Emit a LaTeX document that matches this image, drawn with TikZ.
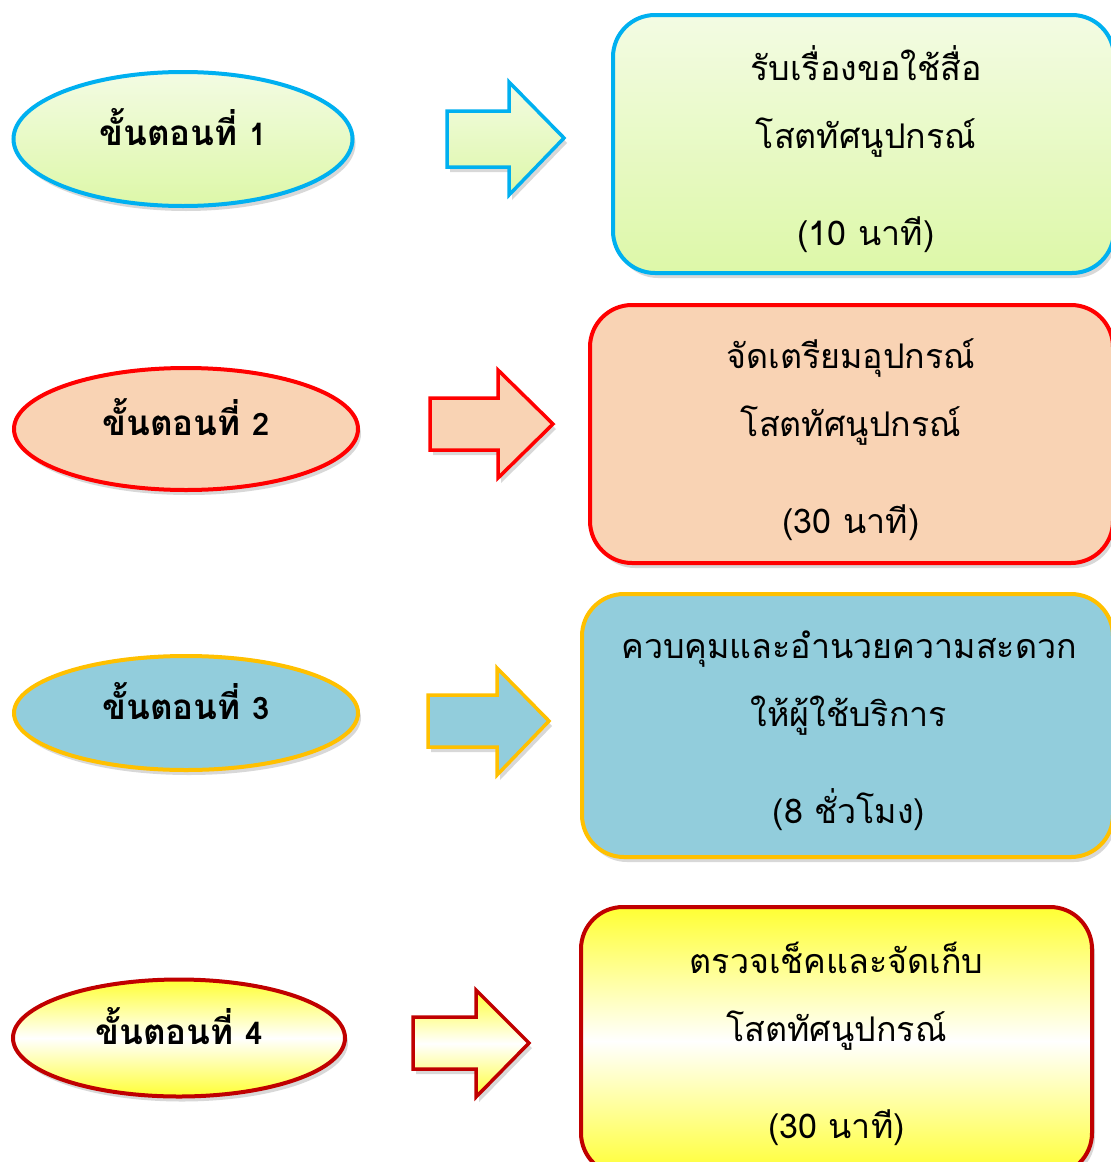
\documentclass[tikz,border=0pt]{standalone}
\usepackage{fontspec}
\newfontfamily\thaifont[Script=Thai]{Loma}
\usepackage{tikz}
\usetikzlibrary{shapes.geometric}
\usetikzlibrary{shadows}
\usepackage{xcolor}
\definecolor{cyanline}{HTML}{00B0F0}
\definecolor{greenlt}{HTML}{F3FBE3}
\definecolor{greendk}{HTML}{DDF8A8}
\definecolor{peach}{HTML}{F9D3B4}
\definecolor{skyblue}{HTML}{92CDDC}
\definecolor{gold}{HTML}{FFC000}
\definecolor{darkred}{HTML}{C00000}
\definecolor{yel}{HTML}{FFFF33}
\newcommand{\stepno}[1]{{\fontsize{31}{34}\selectfont #1}}

\begin{document}
\begin{tikzpicture}[x=1pt,y=-1pt,
  shade1/.style={top color=greenlt,bottom color=greendk,draw=cyanline},
  shade2/.style={fill=peach,draw=red},
  shade3/.style={fill=skyblue,draw=gold},
  shade4/.style={top color=yel,bottom color=yel,middle color=white,draw=darkred},
  soft/.style={line width=4pt,drop shadow={opacity=0.3,shadow xshift=3pt,shadow yshift=-5pt}},
  stage/.style={ellipse,soft,inner sep=0pt,font=\thaifont\bfseries\fontsize{35}{40}\selectfont},
  task/.style={rounded corners=42pt,soft,inner sep=0pt},
  tasktext/.style={align=center,inner sep=0pt,font=\thaifont\fontsize{34}{68}\selectfont}]
  \clip (0,0) rectangle (1111,1162);
  \useasboundingbox (0,0) rectangle (1111,1162);
  \fill[white] (0,0) rectangle (1111,1162);

  \node[stage,shade1,minimum width=339pt,minimum height=134pt] (st1) at (183,139) {\raisebox{-6pt}[0pt][0pt]{ขั้นตอนที่ \stepno{1}}};
  \node[stage,shade2,minimum width=344pt,minimum height=122pt] (st2) at (186,429) {\raisebox{-6pt}[0pt][0pt]{ขั้นตอนที่ \stepno{2}}};
  \node[stage,shade3,minimum width=344pt,minimum height=114pt] (st3) at (186,713) {\raisebox{-6pt}[0pt][0pt]{ขั้นตอนที่ \stepno{3}}};
  \node[stage,shade4,minimum width=332pt,minimum height=117pt] (st4) at (179,1038) {\raisebox{-6pt}[0pt][0pt]{ขั้นตอนที่ \stepno{4}}};

  \draw[shade1,soft,line width=3.5pt] (447,111) -- ++(62,0) -- ++(0,-29) -- ++(55,56) -- ++(-55,57) -- ++(0,-28) -- ++(-62,0) -- cycle;
  \draw[shade2,soft,line width=3.5pt] (430,398) -- ++(68,0) -- ++(0,-28) -- ++(55,54) -- ++(-55,54) -- ++(0,-28) -- ++(-68,0) -- cycle;
  \draw[shade3,soft,line width=3.5pt] (428,695) -- ++(69,0) -- ++(0,-27) -- ++(52,53) -- ++(-52,54) -- ++(0,-28) -- ++(-69,0) -- cycle;
  \draw[shade4,soft,line width=3.5pt] (413,1017) -- ++(63,0) -- ++(0,-27) -- ++(53,53) -- ++(-53,54) -- ++(0,-28) -- ++(-63,0) -- cycle;

  \node[task,shade1,minimum width=501pt,minimum height=258pt] (tk1) at (863.5,144) {};
  \node[task,shade2,minimum width=523pt,minimum height=258pt] (tk2) at (851.5,434) {};
  \node[task,shade3,minimum width=531pt,minimum height=263pt] (tk3) at (847.5,725.5) {};
  \node[task,shade4,minimum width=511pt,minimum height=268pt] (tk4) at (836.5,1041) {};

  \node[tasktext] (tx1) at (866,149) {รับเรื่องขอใช้สื่อ\\ โสตทัศนูปกรณ์\\[29pt] (10 นาที)};
  \node[tasktext] (tx2) at (851,440) {จัดเตรียมอุปกรณ์\\ โสตทัศนูปกรณ์\\[29pt] (30 นาที)};
  \node[tasktext] (tx3) at (849,730.5) {ควบคุมและอำนวยความสะดวก\\ ให้ผู้ใช้บริการ\\[29pt] (8 ชั่วโมง)};
  \node[tasktext] (tx4) at (836.5,1043.5) {ตรวจเช็คและจัดเก็บ\\ โสตทัศนูปกรณ์\\[29pt] (30 นาที)};
\end{tikzpicture}
\end{document}
